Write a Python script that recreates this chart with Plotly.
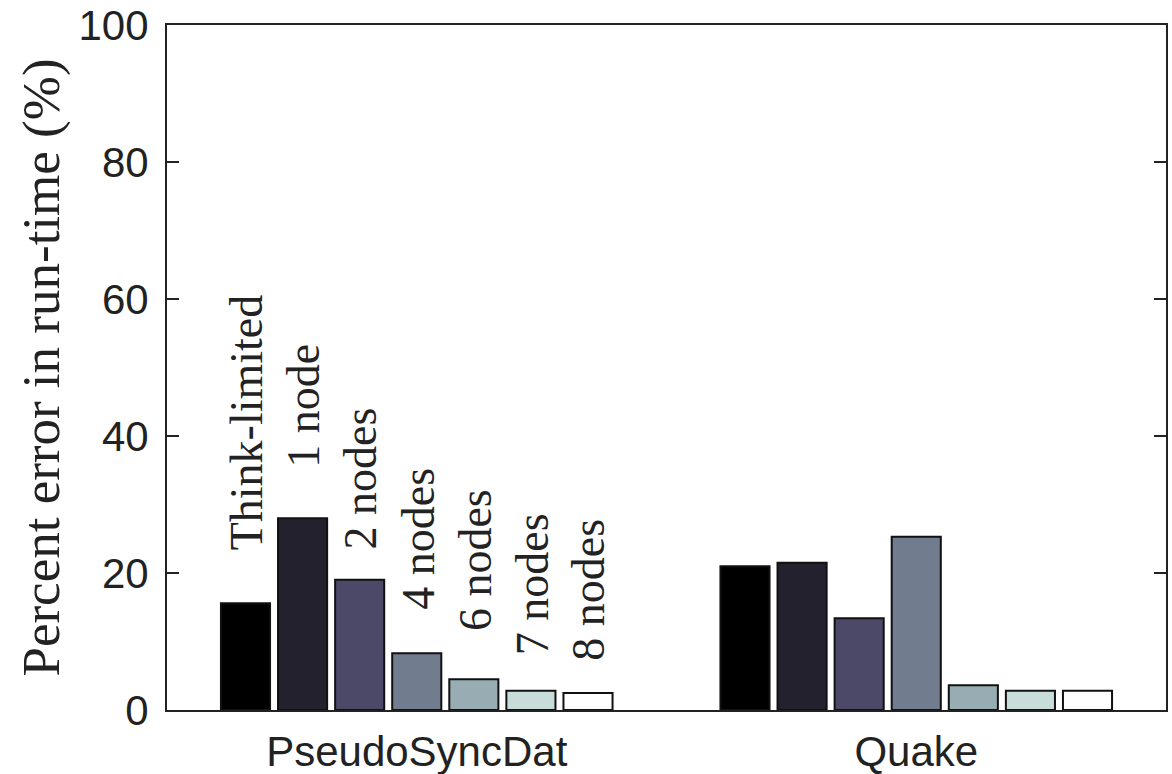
import plotly.graph_objects as go

categories = ["PseudoSyncDat", "Quake"]
series_names = ["Think-limited", "1 node", "2 nodes", "4 nodes", "6 nodes", "7 nodes", "8 nodes"]
think_limited = [15.6, 21.0]
node1 = [28.0, 21.5]
node2 = [19.0, 13.4]
node4 = [8.3, 25.3]
node6 = [4.5, 3.6]
node7 = [2.8, 2.8]
node8 = [2.5, 2.8]
series_values = [think_limited, node1, node2, node4, node6, node7, node8]
label_pos = [23.1, 35.0, 23.1, 14.3, 11.2, 7.7, 6.9]
colors = ["#000000", "#23212e", "#4b4868", "#727c8f", "#97adb3", "#c8dcda", "#ffffff"]
y_ticks = [0, 20, 40, 60, 80, 100]

fig = go.Figure()
for name, vals, col in zip(series_names, series_values, colors):
    fig.add_trace(go.Bar(x=categories, y=vals, name=name,
                         marker=dict(color=col, line=dict(color="#111111", width=2))))

W, H = 1172, 774
ml, mr, mt, mb = 167, 6, 25, 64
plot_w = W - ml - mr
cat_w = plot_w / len(categories)
bargap = 0.2
slot = cat_w * (1 - bargap) / len(series_names)

for i, (name, yb) in enumerate(zip(series_names, label_pos)):
    fig.add_annotation(x=categories[0], y=yb, text=name, showarrow=False,
                       textangle=-90, xanchor="center", yanchor="bottom",
                       xshift=(i - (len(series_names) - 1) / 2) * slot + 1,
                       font=dict(family="Liberation Serif", size=46, color="#222222"))

fig.update_layout(
    width=W, height=H,
    margin=dict(l=ml, r=mr, t=mt, b=mb, autoexpand=False),
    paper_bgcolor="white", plot_bgcolor="white",
    barmode="group", bargap=bargap, bargroupgap=0.14,
    showlegend=False,
    font=dict(family="Liberation Sans", color="#222222"),
)
fig.update_xaxes(type="category", range=[-0.5, 1.5], showline=True, linecolor="#222222",
                 linewidth=2, mirror=True, ticks="", showgrid=False, automargin=False,
                 tickfont=dict(family="Liberation Sans", size=42, color="#222222"),
                 ticklabelstandoff=4)
fig.update_yaxes(range=[0, 100], tickvals=y_ticks, showline=True, linecolor="#222222",
                 linewidth=2, mirror="ticks", ticks="inside", ticklen=12, tickwidth=2,
                 tickcolor="#222222", showgrid=False, zeroline=False, automargin=False,
                 tickfont=dict(family="Liberation Sans", size=42, color="#222222"),
                 ticklabelstandoff=8,
                 title=dict(text="Percent error in run-time (%)",
                            font=dict(family="Liberation Serif", size=53, color="#222222"),
                            standoff=2))

fig.write_html("out.html",
               config={"displayModeBar": False},
               post_script="document.body.style.margin='0';"
                           "document.documentElement.style.overflow='hidden';"
                           "document.body.style.overflow='hidden';")
